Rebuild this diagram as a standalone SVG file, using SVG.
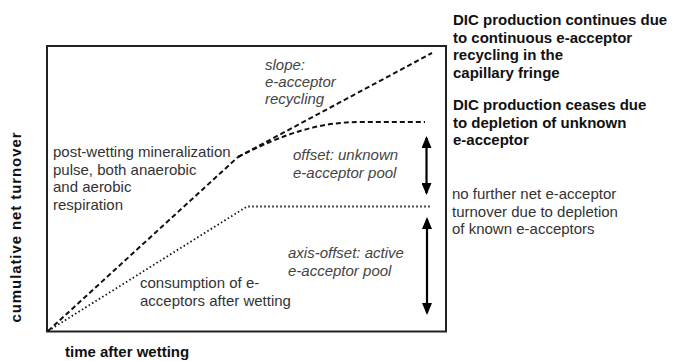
<svg xmlns="http://www.w3.org/2000/svg" width="673" height="361" viewBox="0 0 673 361">
<style>
  .t { font-family: "Liberation Sans", Arial, sans-serif; font-size: 15px; fill: #333; }
  .i { font-family: "Liberation Sans", Arial, sans-serif; font-size: 15px; font-style: italic; fill: #444; }
  .b { font-family: "Liberation Sans", Arial, sans-serif; font-size: 15px; font-weight: bold; fill: #111; }
  .dash { fill: none; stroke: #111; stroke-width: 2; stroke-dasharray: 5 3; }
  .dot { fill: none; stroke: #111; stroke-width: 1.8; stroke-dasharray: 1.5 2.5; }
  .arr { fill: none; stroke: #000; stroke-width: 2.2; marker-start: url(#ah); marker-end: url(#ah); }
</style>
<defs>
  <marker id="ah" viewBox="0 0 12 10" refX="10" refY="5" markerWidth="12" markerHeight="10" markerUnits="userSpaceOnUse" orient="auto-start-reverse">
    <path d="M0,0 L12,5 L0,10 Z" fill="#000"/>
  </marker>
</defs>
<rect width="673" height="361" fill="#fff"/>

<g id="plot-frame">
  <rect x="47" y="46" width="399" height="285.5" fill="none" stroke="#222" stroke-width="2"/>
</g>

<g id="connectors">
  <path class="dash" d="M48,331 L238,157"/>
  <path class="dash" d="M238,157 L432,53"/>
  <path class="dash" d="M238,157 C285,133 320,122 360,122 L425,122"/>
  <path class="dot" d="M48,331 L247,206.5 L430,206.5"/>
  <path class="arr" d="M426.5,138 L426.5,193"/>
  <path class="arr" d="M427,219 L427,313"/>
</g>

<g id="axis-labels">
  <text class="b" transform="translate(21,227.5) rotate(-90)" text-anchor="middle" textLength="190" lengthAdjust="spacing">cumulative net turnover</text>
  <text class="b" x="65" y="357">time after wetting</text>
</g>

<g id="label-pulse">
  <text class="t" x="53" y="157">post-wetting mineralization</text>
  <text class="t" x="53" y="174.5">pulse, both anaerobic</text>
  <text class="t" x="53" y="192">and aerobic</text>
  <text class="t" x="53" y="209.5">respiration</text>
</g>

<g id="label-consumption">
  <text class="t" x="140" y="288">consumption of e-</text>
  <text class="t" x="140" y="305.5">acceptors after wetting</text>
</g>

<g id="label-slope">
  <text class="i" x="265" y="70">slope:</text>
  <text class="i" x="265" y="87">e-acceptor</text>
  <text class="i" x="265" y="104">recycling</text>
</g>

<g id="label-offset">
  <text class="i" x="293" y="160">offset: unknown</text>
  <text class="i" x="293" y="177.5">e-acceptor pool</text>
</g>

<g id="label-axis-offset">
  <text class="i" x="288" y="258">axis-offset: active</text>
  <text class="i" x="288" y="275.5">e-acceptor pool</text>
</g>

<g id="note-continues">
  <text class="b" x="453" y="25">DIC production continues due</text>
  <text class="b" x="453" y="42.5">to continuous e-acceptor</text>
  <text class="b" x="453" y="60">recycling in the</text>
  <text class="b" x="453" y="77.5">capillary fringe</text>
</g>

<g id="note-ceases">
  <text class="b" x="453" y="110">DIC production ceases due</text>
  <text class="b" x="453" y="127.5">to depletion of unknown</text>
  <text class="b" x="453" y="145">e-acceptor</text>
</g>

<g id="note-no-further">
  <text class="t" x="452" y="199">no further net e-acceptor</text>
  <text class="t" x="452" y="216.5">turnover due to depletion</text>
  <text class="t" x="452" y="234">of known e-acceptors</text>
</g>
</svg>
